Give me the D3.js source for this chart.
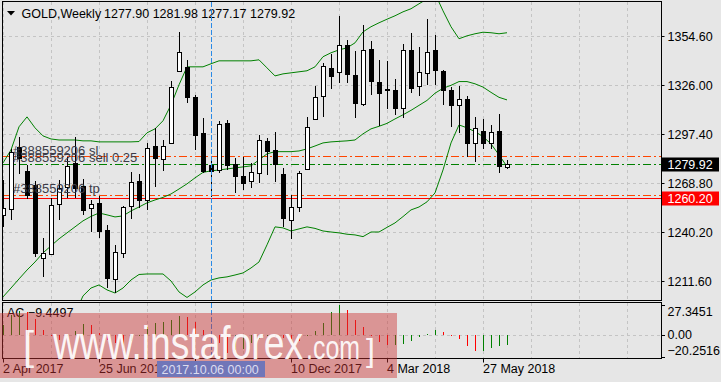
<!DOCTYPE html>
<html lang="en">
<head>
<meta charset="utf-8">
<title>GOLD, Weekly</title>
<script src="https://d3js.org/d3.v7.min.js"></script>
<style type="text/css">
body {
	margin: 0;
	background: #e6e6e6;
}
svg {
	display: block;
	font-family: "Liberation Sans", Arial, sans-serif;
	font-size: 12.5px;
}
</style>
</head>
<body>
<script type="text/javascript">

// weekly bars, the first one is the week of 2 Apr 2017
const firstWeek = new Date(Date.UTC(2017, 3, 2));

const barOpen = [1250.2,1254.1,1290.1,1275.9,1267.7,1225.4,1227.4,1257.0,1266.7,1280.4,
  1267.3,1254.2,1257.2,1241.4,1212.8,1228.0,1255.0,1270.0,1258.9,1290.5,
  1283.3,1292.0,1334.3,1336.6,1318.9,1297.9,1279.4,1276.0,1303.7,1279.8,
  1273.0,1269.6,1274.5,1293.4,1288.1,1274.1,1247.2,1254.7,1277.4,1306.1,
  1319.8,1335.9,1333.9,1349.1,1331.9,1314.8,1346.9,1328.0,1323.6,1323.2,
  1312.8,1346.5,1325.1,1333.3,1346.5,1333.9,1322.8,1314.2,1317.9,1292.0,
  1299.4,1292.0,1299.2,1277.90];
const barHigh = [1270.6,1288.5,1295.9,1279.4,1270.0,1236.5,1259.9,1270.6,1284.0,1295.9,
  1271.0,1258.9,1261.0,1244.3,1232.6,1255.6,1275.5,1274.1,1292.4,1301.0,
  1294.0,1328.4,1357.2,1340.3,1320.3,1306.8,1282.3,1304.7,1305.6,1283.3,
  1284.0,1280.5,1296.9,1295.1,1298.8,1277.6,1261.8,1275.9,1307.4,1325.5,
  1338.8,1344.2,1366.0,1352.0,1346.1,1361.1,1351.4,1340.7,1340.1,1329.6,
  1350.0,1356.6,1347.9,1364.6,1355.3,1334.9,1324.8,1325.5,1319.3,1307.2,
  1306.1,1302.7,1309.2,1281.98];
const barLow = [1243.3,1247.2,1274.1,1259.5,1225.8,1214.1,1226.8,1247.2,1260.0,1260.0,
  1250.0,1240.2,1236.7,1207.5,1204.6,1225.0,1248.0,1254.2,1253.1,1266.7,
  1276.0,1291.6,1333.9,1315.4,1288.1,1274.7,1260.9,1274.5,1276.4,1263.2,
  1264.8,1266.0,1268.9,1273.5,1269.6,1243.3,1236.0,1252.1,1277.0,1305.6,
  1307.6,1323.6,1327.4,1327.1,1306.6,1313.8,1320.3,1302.1,1312.1,1308.6,
  1306.6,1321.3,1319.3,1326.1,1326.1,1314.4,1301.2,1297.9,1284.2,1281.3,
  1288.5,1288.5,1274.9,1277.17];
const barClose = [1254.1,1287.1,1283.9,1261.8,1227.8,1228.1,1256.0,1266.1,1278.8,1265.8,
  1253.5,1256.6,1241.0,1213.2,1228.5,1254.8,1269.3,1258.9,1289.3,1283.6,
  1290.6,1324.8,1345.5,1319.3,1296.5,1275.5,1276.0,1303.1,1279.4,1273.0,
  1269.0,1275.1,1293.8,1287.7,1279.8,1248.2,1254.7,1274.5,1301.7,1318.9,
  1337.2,1331.0,1349.5,1331.9,1315.4,1346.5,1328.0,1321.6,1322.8,1312.8,
  1346.5,1324.5,1333.3,1345.5,1334.9,1322.8,1313.8,1317.9,1292.4,1300.8,
  1292.4,1298.5,1278.9,1279.92];

// Bollinger bands as drawn on the chart
const bandUpper = [1280.5,1288.1,1301.6,1307.4,1301.0,1296.3,1294.5,1293.9,1293.9,1293.9,
  1293.4,1293.4,1292.8,1292.8,1292.8,1292.8,1292.8,1293.0,1298.1,1300.4,
  1305.1,1314.4,1326.1,1336.6,1336.6,1336.6,1338.4,1340.1,1340.1,1340.1,
  1340.1,1340.1,1340.7,1336.0,1331.3,1332.5,1333.1,1333.7,1334.3,1336.6,
  1342.5,1344.8,1346.5,1347.7,1350.6,1357.0,1360.0,1362.3,1364.4,1366.4,
  1368.7,1370.5,1373.4,1376.2,1379.4,1369.3,1360.0,1353.0,1354.7,1355.9,
  1356.8,1356.5,1355.9,1356.5];
const bandMiddle = [1202.3,1207.5,1212.8,1218.0,1222.7,1228.0,1232.1,1236.2,1239.7,1243.2,
  1246.7,1249.3,1251.3,1250.2,1249.0,1249.6,1252.5,1254.8,1257.2,1258.9,
  1260.4,1262.4,1265.3,1268.3,1271.8,1275.0,1275.9,1276.4,1277.0,1277.6,
  1278.2,1278.8,1282.3,1285.8,1287.1,1287.1,1287.1,1287.5,1288.7,1290.4,
  1292.2,1292.8,1293.1,1293.4,1293.9,1297.5,1300.4,1301.9,1303.6,1306.2,
  1308.6,1311.2,1314.1,1317.0,1321.2,1324.1,1325.8,1328.0,1328.0,1326.7,
  1324.8,1321.7,1318.8,1317.3];
const bandLower = [1124.1,1126.9,1124.0,1128.6,1144.4,1159.7,1169.7,1178.5,1185.5,1192.5,
  1202.9,1207.5,1209.3,1206.4,1204.6,1207.5,1212.2,1215.4,1215.7,1215.7,
  1215.7,1211.6,1205.2,1202.0,1205.2,1209.3,1212.2,1213.4,1214.0,1215.1,
  1216.3,1219.2,1222.7,1232.7,1243.2,1242.6,1240.8,1242.0,1243.2,1242.3,
  1240.8,1240.2,1239.7,1238.9,1238.5,1237.5,1240.2,1240.2,1242.9,1245.5,
  1249.2,1253.1,1254.8,1257.8,1263.0,1276.4,1292.2,1302.7,1301.0,1298.8,
  1295.9,1291.6,1285.2,1278.4];

// Accelerator oscillator
const ac = [8.8,18.4,21.8,20.8,14.4,4.0,-1.5,-4.6,-1.0,3.5,
  9.5,8.5,2.0,-4.6,-7.7,-15.3,-6.1,-1.0,7.1,10.8,
  11.7,13.2,17.3,16.6,11.7,4.6,-1.5,-8.0,-17.0,-13.8,
  -13.2,-8.0,-3.5,-0.8,-1.8,-3.2,-4.4,-6.1,-1.0,3.0,
  10.8,20.5,27.3451,23.0,13.8,6.7,-0.8,-7.1,-9.9,-9.6,
  -8.6,-6.2,-2.3,0.4,3.9,2.1,-1.5,-4.3,-10.7,-15.3,
  -15.0,-12.3,-10.4,-9.4497];
const acMin = -20.2516, acMax = 27.3451;

// price scale ticks and trade levels
const priceTicks = [1211.6, 1240.2, 1268.8, 1297.4, 1326.0, 1354.6];
const orderId = "#388559206";
const slPrice = 1284.55, entryPrice = 1279.7, tpPrice = 1261.8, linePrice = 1260.2;
const markerBar = 26;
const markerLabel = "2017.10.06 00:00";
const labelEvery = 12, gridEvery = 6;

const W = 721, H = 382;
const plotLeft = 2.5, plotRight = 661.5, plotTop = 1.5, mainBottom = 300.5;
const subTop = 302.5, subBottom = 358.5;

var x = d3.scaleLinear().domain([0, 63]).range([3, 507]);
var y = d3.scaleLinear().domain([1211.6, 1354.6]).range([281, 36]);
var yAc = d3.scaleLinear().domain([acMin, acMax]).range([356.7, 305]);

var weekDate = function(i) { return d3.utcDay.offset(firstWeek, 7 * i); };
var fmtDate = d3.utcFormat("%-d %b %Y");
var f2 = d3.format(".2f");

var svg = d3.select("body").append("svg")
    .attr("width", W)
    .attr("height", H);

svg.append("rect").attr("width", W).attr("height", H).attr("fill", "#e6e6e6");

svg.append("clipPath").attr("id", "mainClip")
  .append("rect").attr("x", plotLeft).attr("y", plotTop)
  .attr("width", plotRight - plotLeft).attr("height", mainBottom - plotTop);

// grid
var grid = svg.append("g")
    .attr("stroke", "#c4c4c4")
    .attr("stroke-dasharray", "3,3")
    .attr("shape-rendering", "crispEdges");

var gridIdx = d3.range(0, 80, gridEvery).filter(function(i){ return x(i) < plotRight; });
[[plotTop, mainBottom], [subTop, subBottom]].forEach(function(p) {
  grid.selectAll(null).data(gridIdx).enter().append("line")
    .attr("x1", function(i){ return x(i) + 0.5; })
    .attr("x2", function(i){ return x(i) + 0.5; })
    .attr("y1", p[0]).attr("y2", p[1]);
});
grid.selectAll(null).data(priceTicks).enter().append("line")
  .attr("x1", plotLeft).attr("x2", plotRight)
  .attr("y1", function(d){ return Math.round(y(d)) + 0.5; })
  .attr("y2", function(d){ return Math.round(y(d)) + 0.5; });
grid.append("line")
  .attr("x1", plotLeft).attr("x2", plotRight)
  .attr("y1", Math.round(yAc(0)) + 0.5).attr("y2", Math.round(yAc(0)) + 0.5);

var main = svg.append("g").attr("clip-path", "url(#mainClip)");

// trade levels
function level(price, color, dash) {
  main.append("line")
    .attr("x1", plotLeft).attr("x2", plotRight)
    .attr("y1", Math.round(y(price)) + 0.5).attr("y2", Math.round(y(price)) + 0.5)
    .attr("stroke", color)
    .attr("stroke-dasharray", dash)
    .attr("shape-rendering", "crispEdges");
}
level(slPrice, "#ff4500", "8,3,2,3");
level(entryPrice, "#008000", "8,3,2,3");
level(tpPrice, "#ff4500", "8,3,2,3");
level(linePrice, "#ff0000", null);

// bollinger bands
var bandLine = d3.line()
    .x(function(d, i){ return x(i); })
    .y(function(d){ return y(d); });
[bandUpper, bandMiddle, bandLower].forEach(function(b) {
  main.append("path")
    .attr("d", bandLine(b))
    .attr("fill", "none")
    .attr("stroke", "#008000")
    .attr("stroke-width", 1);
});

// candles
var bars = d3.range(barOpen.length);
var candle = main.append("g")
    .attr("shape-rendering", "crispEdges")
  .selectAll("g")
  .data(bars)
  .enter().append("g");

candle.append("line")
    .attr("x1", function(i){ return x(i) + 0.5; })
    .attr("x2", function(i){ return x(i) + 0.5; })
    .attr("y1", function(i){ return Math.round(y(barHigh[i])); })
    .attr("y2", function(i){ return Math.round(y(barLow[i])); })
    .attr("stroke", "#000");

candle.append("rect")
    .attr("x", function(i){ return x(i) - 1.5; })
    .attr("width", 4)
    .attr("y", function(i){ return Math.round(y(Math.max(barOpen[i], barClose[i]))) + 0.5; })
    .attr("height", function(i){
      return Math.max(1, Math.round(Math.abs(y(barOpen[i]) - y(barClose[i]))));
    })
    .attr("fill", function(i){ return barClose[i] >= barOpen[i] ? "#fff" : "#000"; })
    .attr("stroke", "#000");

// order labels
var orderText = svg.append("g").attr("fill", "#3c3c48").attr("font-size", "13px");
orderText.append("text").attr("x", 13).attr("y", Math.round(y(slPrice)) - 1)
  .text(orderId + " sl");
orderText.append("text").attr("x", 13).attr("y", Math.round(y(entryPrice)) - 2)
  .text(orderId + " sell 0.25");
orderText.append("text").attr("x", 13).attr("y", Math.round(y(tpPrice)) - 2)
  .text(orderId + " tp");

// title
svg.append("path").attr("d", "M7,11L15,11L11,15.5Z").attr("fill", "#000");
svg.append("text").attr("x", 21.5).attr("y", 17.5).attr("fill", "#000")
  .text("GOLD,Weekly");
var last = barOpen.length - 1;
svg.append("text").attr("x", 104).attr("y", 17.5).attr("fill", "#000")
  .text([barOpen[last], barHigh[last], barLow[last], barClose[last]].map(f2).join(" "));

// AC label then bars
svg.append("text").attr("x", 7).attr("y", 317).attr("fill", "#000")
  .text("AC " + d3.format(".4f")(ac[last]));

svg.append("g")
    .attr("shape-rendering", "crispEdges")
  .selectAll("line")
  .data(ac)
  .enter().append("line")
    .attr("x1", function(d, i){ return x(i) + 0.5; })
    .attr("x2", function(d, i){ return x(i) + 0.5; })
    .attr("y1", Math.round(yAc(0)))
    .attr("y2", function(d){ return Math.round(yAc(d)); })
    .attr("stroke", function(d, i){ return (i === 0 || d >= ac[i - 1]) ? "#008000" : "#ff0000"; });

// marker line
svg.append("line")
  .attr("x1", x(markerBar) + 0.5).attr("x2", x(markerBar) + 0.5)
  .attr("y1", plotTop).attr("y2", subBottom)
  .attr("stroke", "#2a8ae6")
  .attr("stroke-dasharray", "5,2")
  .attr("shape-rendering", "crispEdges");

// panel frames
var frame = svg.append("g").attr("fill", "none").attr("stroke", "#000")
    .attr("shape-rendering", "crispEdges");
frame.append("rect").attr("x", plotLeft).attr("y", plotTop)
  .attr("width", plotRight - plotLeft).attr("height", mainBottom - plotTop);
frame.append("rect").attr("x", plotLeft).attr("y", subTop)
  .attr("width", plotRight - plotLeft).attr("height", subBottom - subTop);

// price axis
var yAxis = svg.append("g")
    .attr("transform", "translate(" + plotRight + ",0)")
    .call(d3.axisRight(y).tickValues(priceTicks).tickSize(3).tickPadding(3).tickFormat(f2));
yAxis.attr("font-size", null).attr("font-family", null);
yAxis.select(".domain").remove();

// AC axis
var acTicks = [acMax, 0, acMin];
var acFmt = function(d){ return d === 0 ? "0.00" : d3.format(".4f")(d); };
var acAxis = svg.append("g");
acAxis.selectAll("line").data(acTicks).enter().append("line")
  .attr("x1", plotRight).attr("x2", plotRight + 3)
  .attr("y1", function(d){ return Math.round(yAc(d)) + 0.5; })
  .attr("y2", function(d){ return Math.round(yAc(d)) + 0.5; })
  .attr("stroke", "#000").attr("shape-rendering", "crispEdges");
acAxis.selectAll("text").data(acTicks).enter().append("text")
  .attr("x", plotRight + 6)
  .attr("y", function(d){ return Math.min(351, Math.max(311.5, yAc(d))); })
  .attr("dy", "0.35em")
  .attr("fill", "#000")
  .text(acFmt);

// time axis; the label under the marker box is hidden by it
var labelIdx = d3.range(0, 64, labelEvery);
var xAxis = svg.append("g")
    .attr("transform", "translate(0," + subBottom + ")")
    .call(d3.axisBottom(x).tickValues(labelIdx).tickSize(4).tickPadding(2)
      .tickFormat(function(i){
        return Math.abs(i - markerBar) < 5 ? "" : fmtDate(weekDate(i));
      }));
xAxis.attr("font-size", null).attr("font-family", null);
xAxis.select(".domain").remove();
xAxis.selectAll(".tick").attr("transform", function(i){ return "translate(" + (x(i) + 0.5) + ",0)"; });
xAxis.selectAll("text").attr("text-anchor", "start").attr("x", -0.5);

// current price and line price boxes
function priceBox(price, color) {
  var cy = Math.round(y(price)) + 0.5;
  svg.append("rect").attr("x", plotRight + 0.5).attr("y", cy - 7)
    .attr("width", 57).attr("height", 14).attr("fill", color);
  svg.append("text").attr("x", plotRight + 6).attr("y", cy).attr("dy", "0.35em")
    .attr("fill", "#fff").text(f2(price));
}
priceBox(barClose[last], "#000");
priceBox(linePrice, "#ff0000");

// watermark
svg.append("rect").attr("x", 0).attr("y", 313).attr("width", 397).attr("height", 65)
  .attr("fill", "rgb(205,50,50)").attr("fill-opacity", 0.45);
var wm = svg.append("g").attr("fill", "#fff").attr("fill-opacity", 0.92);
wm.append("text").attr("x", 23).attr("y", 360).attr("font-size", "40px").text("[");
wm.append("text").attr("x", 53).attr("y", 359).attr("font-size", "46px")
  .attr("textLength", 250).attr("lengthAdjust", "spacingAndGlyphs").text("www.instaforex");
wm.append("text").attr("x", 306).attr("y", 359).attr("font-size", "33px")
  .attr("textLength", 54).attr("lengthAdjust", "spacingAndGlyphs").text(".com");
wm.append("text").attr("x", 366).attr("y", 361).attr("font-size", "32px").text("]");

// marker date box
svg.append("rect").attr("x", 157).attr("y", 361).attr("width", 108).attr("height", 16)
  .attr("fill", "#7176b8");
svg.append("text").attr("x", 161.5).attr("y", 374).attr("fill", "#dcdcf0")
  .text(markerLabel);

</script>
</body>
</html>
